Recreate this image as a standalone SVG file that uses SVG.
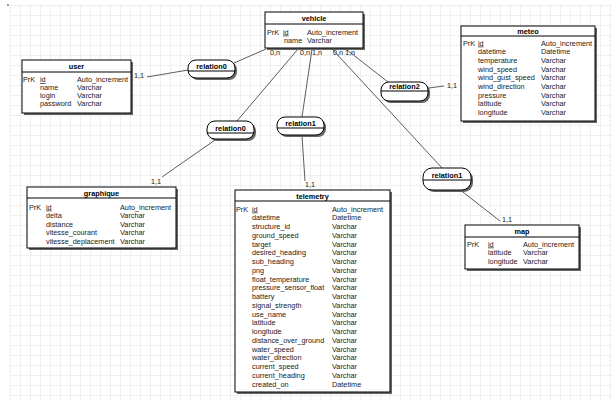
<svg xmlns="http://www.w3.org/2000/svg" width="616" height="407" viewBox="0 0 616 407">
<style>
.t{font-family:"Liberation Sans",Arial,sans-serif;font-size:7.3px;fill:#222}
.h{font-weight:bold;text-anchor:middle;fill:#000}
.u{text-decoration:underline}
.box{fill:#fff;stroke:#000;stroke-width:1}
.sh{fill:#666}
.dv{stroke:#000;stroke-width:1}
.conn line{stroke:#333;stroke-width:0.8}
</style>
<defs>
<pattern id="grid" width="10" height="10" patternUnits="userSpaceOnUse" x="10" y="5">
<path d="M10 0H0V10" fill="none" stroke="#e2e2e2" stroke-width="1"/>
</pattern>
</defs>
<rect width="616" height="407" fill="#fff"/>
<rect x="10" y="5" width="602" height="395" fill="url(#grid)"/>
<rect x="7" y="4" width="2" height="2" fill="#999"/>

<g id="connectors" class="conn">
<line x1="147" y1="77" x2="188" y2="70"/>
<line x1="234" y1="63" x2="266" y2="49"/>
<line x1="298" y1="49" x2="237" y2="121"/>
<line x1="215" y1="140" x2="162" y2="177"/>
<line x1="312" y1="49" x2="302" y2="117"/>
<line x1="302" y1="136" x2="305" y2="181"/>
<line x1="347" y1="50" x2="388" y2="82"/>
<line x1="429" y1="88" x2="444" y2="86"/>
<line x1="333" y1="50" x2="442" y2="168"/>
<line x1="459" y1="189" x2="500" y2="221"/>
</g>

<g id="cardinalities" class="t">
<text x="134" y="78">1,1</text>
<text x="270" y="55">0,n</text>
<text x="300" y="55">0,n</text>
<text x="312" y="55">1,n</text>
<text x="333" y="55">0,n</text>
<text x="345" y="55">1,n</text>
<text x="151" y="184">1,1</text>
<text x="305" y="187">1,1</text>
<text x="447" y="88">1,1</text>
<text x="502" y="222">1,1</text>
</g>

<g id="relation0_user">
<rect x="190" y="62" width="47" height="18" rx="8" class="sh"/>
<rect x="188" y="60" width="47" height="18" rx="8" class="box"/>
<line x1="188" y1="71" x2="235" y2="71" class="dv"/>
<text x="211.5" y="69" class="t h">relation0</text>
</g>

<g id="relation0_graphique">
<rect x="209" y="123" width="47" height="18" rx="8" class="sh"/>
<rect x="207" y="121" width="47" height="18" rx="8" class="box"/>
<line x1="207" y1="133" x2="254" y2="133" class="dv"/>
<text x="230.5" y="131" class="t h">relation0</text>
</g>

<g id="relation1_telemetry">
<rect x="279" y="119" width="47" height="18" rx="8" class="sh"/>
<rect x="277" y="117" width="47" height="18" rx="8" class="box"/>
<line x1="277" y1="128" x2="324" y2="128" class="dv"/>
<text x="300.5" y="125.5" class="t h">relation1</text>
</g>

<g id="relation2_meteo">
<rect x="383" y="84" width="47" height="19" rx="8" class="sh"/>
<rect x="381" y="82" width="47" height="19" rx="8" class="box"/>
<line x1="381" y1="91" x2="428" y2="91" class="dv"/>
<text x="404.5" y="89" class="t h">relation2</text>
</g>

<g id="relation1_map">
<rect x="425" y="170" width="48" height="22" rx="9" class="sh"/>
<rect x="423" y="168" width="48" height="22" rx="9" class="box"/>
<line x1="423" y1="180" x2="471" y2="180" class="dv"/>
<text x="447" y="177.5" class="t h">relation1</text>
</g>

<g id="vehicle">
<rect x="267" y="14" width="98" height="36" class="sh"/>
<rect x="265" y="12" width="98" height="36" class="box"/>
<line x1="265" y1="24" x2="363" y2="24" class="dv"/>
<text x="314" y="21" class="t h">vehicle</text>
<g class="t">
<text x="267" y="34.5">PrK</text><text x="283" y="34.5" class="u">id</text><text x="307" y="34.5">Auto_increment</text>
<text x="284" y="43">name</text><text x="307" y="43">Varchar</text>
</g>
</g>

<g id="user">
<rect x="24" y="62" width="109" height="53" class="sh"/>
<rect x="22" y="60" width="109" height="53" class="box"/>
<line x1="22" y1="72" x2="131" y2="72" class="dv"/>
<text x="76.5" y="69" class="t h">user</text>
<g class="t">
<text x="23" y="82">PrK</text><text x="40" y="82" class="u">id</text><text x="77" y="82">Auto_increment</text>
<text x="40" y="90">name</text><text x="77" y="90">Varchar</text>
<text x="40" y="98">login</text><text x="77" y="98">Varchar</text>
<text x="40" y="106">password</text><text x="77" y="106">Varchar</text>
</g>
</g>

<g id="meteo">
<rect x="463" y="28" width="134" height="95" class="sh"/>
<rect x="461" y="26" width="134" height="95" class="box"/>
<line x1="461" y1="36" x2="595" y2="36" class="dv"/>
<text x="528" y="33.5" class="t h">meteo</text>
<g class="t">
<text x="463" y="45.5">PrK</text><text x="478" y="45.5" class="u">id</text><text x="541" y="45.5">Auto_increment</text>
<text x="478" y="54.2">datetime</text><text x="541" y="54.2">Datetime</text>
<text x="478" y="62.9">temperature</text><text x="541" y="62.9">Varchar</text>
<text x="478" y="71.6">wind_speed</text><text x="541" y="71.6">Varchar</text>
<text x="478" y="80.3">wind_gust_speed</text><text x="541" y="80.3">Varchar</text>
<text x="478" y="89">wind_direction</text><text x="541" y="89">Varchar</text>
<text x="478" y="97.7">pressure</text><text x="541" y="97.7">Varchar</text>
<text x="478" y="106.4">latitude</text><text x="541" y="106.4">Varchar</text>
<text x="478" y="115.1">longitude</text><text x="541" y="115.1">Varchar</text>
</g>
</g>

<g id="graphique">
<rect x="29" y="189" width="149" height="61" class="sh"/>
<rect x="27" y="187" width="149" height="61" class="box"/>
<line x1="27" y1="198" x2="176" y2="198" class="dv"/>
<text x="101.5" y="195.5" class="t h">graphique</text>
<g class="t">
<text x="29" y="209.5">PrK</text><text x="46" y="209.5" class="u">id</text><text x="120" y="209.5">Auto_increment</text>
<text x="46" y="218">delta</text><text x="120" y="218">Varchar</text>
<text x="46" y="226.5">distance</text><text x="120" y="226.5">Varchar</text>
<text x="46" y="235">vitesse_courant</text><text x="120" y="235">Varchar</text>
<text x="46" y="243.5">vitesse_deplacement</text><text x="120" y="243.5">Varchar</text>
</g>
</g>

<g id="telemetry">
<rect x="237" y="192" width="155" height="202" class="sh"/>
<rect x="235" y="190" width="155" height="202" class="box"/>
<line x1="235" y1="201" x2="390" y2="201" class="dv"/>
<text x="312.5" y="198.5" class="t h">telemetry</text>
<g class="t">
<text x="236" y="211.5">PrK</text><text x="252" y="211.5" class="u">id</text><text x="332" y="211.5">Auto_increment</text>
<text x="252" y="220.25">datetime</text><text x="332" y="220.25">Datetime</text>
<text x="252" y="229">structure_id</text><text x="332" y="229">Varchar</text>
<text x="252" y="237.75">ground_speed</text><text x="332" y="237.75">Varchar</text>
<text x="252" y="246.5">target</text><text x="332" y="246.5">Varchar</text>
<text x="252" y="255.25">desired_heading</text><text x="332" y="255.25">Varchar</text>
<text x="252" y="264">sub_heading</text><text x="332" y="264">Varchar</text>
<text x="252" y="272.75">png</text><text x="332" y="272.75">Varchar</text>
<text x="252" y="281.5">float_temperature</text><text x="332" y="281.5">Varchar</text>
<text x="252" y="290.25">pressure_sensor_float</text><text x="332" y="290.25">Varchar</text>
<text x="252" y="299">battery</text><text x="332" y="299">Varchar</text>
<text x="252" y="307.75">signal_strength</text><text x="332" y="307.75">Varchar</text>
<text x="252" y="316.5">use_name</text><text x="332" y="316.5">Varchar</text>
<text x="252" y="325.25">latitude</text><text x="332" y="325.25">Varchar</text>
<text x="252" y="334">longitude</text><text x="332" y="334">Varchar</text>
<text x="252" y="342.75">distance_over_ground</text><text x="332" y="342.75">Varchar</text>
<text x="252" y="351.5">water_speed</text><text x="332" y="351.5">Varchar</text>
<text x="252" y="360.25">water_direction</text><text x="332" y="360.25">Varchar</text>
<text x="252" y="369">current_speed</text><text x="332" y="369">Varchar</text>
<text x="252" y="377.75">current_heading</text><text x="332" y="377.75">Varchar</text>
<text x="252" y="386.5">created_on</text><text x="332" y="386.5">Datetime</text>
</g>
</g>

<g id="map">
<rect x="467" y="227" width="114" height="44" class="sh"/>
<rect x="465" y="225" width="114" height="44" class="box"/>
<line x1="465" y1="237" x2="579" y2="237" class="dv"/>
<text x="522" y="234" class="t h">map</text>
<g class="t">
<text x="467" y="246.5">PrK</text><text x="488" y="246.5" class="u">id</text><text x="523" y="246.5">Auto_increment</text>
<text x="488" y="255">latitude</text><text x="523" y="255">Varchar</text>
<text x="488" y="263.5">longitude</text><text x="523" y="263.5">Varchar</text>
</g>
</g>
</svg>
